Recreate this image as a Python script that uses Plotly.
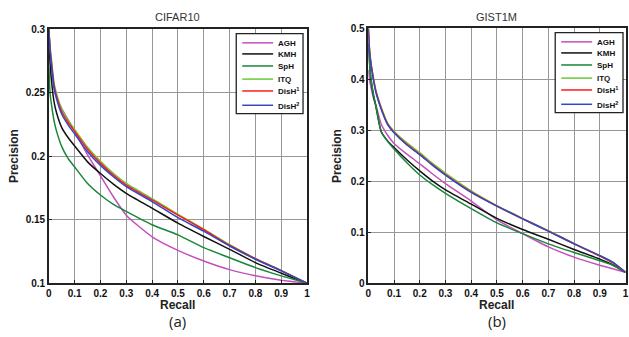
import plotly.graph_objects as go

W, H = 629, 337

methods = ["AGH", "KMH", "SpH", "ITQ", "DisH<sup>1</sup>", "DisH<sup>2</sup>"]
colors = ["#c54fbe", "#111111", "#17873a", "#6cc83a", "#ff1a1a", "#3347c4"]

# ---- CIFAR10 ----
recall_c = [0, 0.005, 0.01, 0.02, 0.03, 0.05, 0.075, 0.1, 0.15, 0.2, 0.25, 0.3, 0.4, 0.5, 0.6, 0.7, 0.8, 0.9, 1.0]
agh_c = [0.3, 0.283, 0.272, 0.254, 0.2465, 0.2375, 0.2285, 0.2195, 0.201, 0.1845, 0.168, 0.1535, 0.1365, 0.1258, 0.1174, 0.1106, 0.1058, 0.1023, 0.1]
kmh_c = [0.3, 0.272, 0.26, 0.243, 0.234, 0.2225, 0.2145, 0.208, 0.1955, 0.1863, 0.178, 0.1707, 0.159, 0.1472, 0.1367, 0.1266, 0.1161, 0.1078, 0.1]
sph_c = [0.27, 0.249, 0.241, 0.228, 0.2195, 0.2075, 0.198, 0.1915, 0.1785, 0.1694, 0.162, 0.1565, 0.146, 0.138, 0.1279, 0.12, 0.1122, 0.1057, 0.1]
itq_c = [0.3, 0.286, 0.276, 0.258, 0.249, 0.237, 0.2282, 0.221, 0.207, 0.196, 0.1865, 0.1785, 0.1665, 0.1542, 0.1425, 0.1302, 0.1194, 0.1099, 0.1]
dish1_c = [0.3, 0.284, 0.274, 0.256, 0.247, 0.235, 0.2265, 0.2195, 0.2055, 0.1945, 0.185, 0.1772, 0.1655, 0.1535, 0.142, 0.1298, 0.1192, 0.1098, 0.1]
dish2_c = [0.3, 0.282, 0.272, 0.254, 0.245, 0.233, 0.2245, 0.2175, 0.2035, 0.1927, 0.1838, 0.176, 0.1642, 0.1515, 0.1409, 0.1292, 0.1188, 0.1096, 0.1]

# ---- GIST1M ----
recall_g = [0, 0.005, 0.01, 0.02, 0.03, 0.05, 0.075, 0.1, 0.15, 0.2, 0.25, 0.3, 0.4, 0.5, 0.6, 0.7, 0.8, 0.9, 0.95, 1.0]
agh_g = [0.418, 0.398, 0.385, 0.363, 0.348, 0.312, 0.29, 0.274, 0.253, 0.234, 0.214, 0.195, 0.161, 0.124, 0.097, 0.071, 0.051, 0.035, 0.028, 0.021]
kmh_g = [0.47, 0.43, 0.4, 0.368, 0.345, 0.297, 0.279, 0.266, 0.242, 0.22, 0.2, 0.183, 0.155, 0.127, 0.105, 0.086, 0.066, 0.047, 0.036, 0.021]
sph_g = [0.47, 0.43, 0.402, 0.37, 0.346, 0.298, 0.278, 0.263, 0.236, 0.212, 0.193, 0.176, 0.146, 0.118, 0.097, 0.077, 0.06, 0.044, 0.035, 0.021]
itq_g = [0.5, 0.457, 0.434, 0.402, 0.377, 0.345, 0.314, 0.298, 0.275, 0.256, 0.235, 0.216, 0.181, 0.152, 0.127, 0.103, 0.078, 0.054, 0.041, 0.021]
dish1_g = [0.5, 0.455, 0.432, 0.4, 0.375, 0.343, 0.312, 0.296, 0.272, 0.253, 0.232, 0.213, 0.179, 0.151, 0.126, 0.102, 0.077, 0.053, 0.04, 0.021]
dish2_g = [0.5, 0.452, 0.43, 0.398, 0.373, 0.341, 0.311, 0.295, 0.271, 0.252, 0.231, 0.212, 0.178, 0.151, 0.126, 0.102, 0.077, 0.054, 0.041, 0.021]

x_ticks = [0, 0.1, 0.2, 0.3, 0.4, 0.5, 0.6, 0.7, 0.8, 0.9, 1]
x_ticktext = ["0", "0.1", "0.2", "0.3", "0.4", "0.5", "0.6", "0.7", "0.8", "0.9", "1"]
y_ticks_c = [0.1, 0.15, 0.2, 0.25, 0.3]
y_ticktext_c = ["0.1", "0.15", "0.2", "0.25", "0.3"]
y_ticks_g = [0, 0.1, 0.2, 0.3, 0.4, 0.5]
y_ticktext_g = ["0", "0.1", "0.2", "0.3", "0.4", "0.5"]

fig = go.Figure()

series_c = [agh_c, kmh_c, sph_c, itq_c, dish1_c, dish2_c]
series_g = [agh_g, kmh_g, sph_g, itq_g, dish1_g, dish2_g]

for name, col, ys in zip(methods, colors, series_c):
    fig.add_trace(go.Scatter(x=recall_c, y=ys, mode="lines", name=name, showlegend=False,
                             line=dict(color=col, width=1.5, shape="spline", smoothing=0.6),
                             xaxis="x", yaxis="y"))
for name, col, ys in zip(methods, colors, series_g):
    fig.add_trace(go.Scatter(x=recall_g, y=ys, mode="lines", name=name, showlegend=False,
                             line=dict(color=col, width=1.5, shape="spline", smoothing=0.6),
                             xaxis="x2", yaxis="y2"))

# pixel -> paper mapping (compensates the small inset observed in rendering)
OX, SX = 2.0, 625.0
OY, SY = 4.0, 329.0

def px_x(p):
    return (p - OX) / SX

def px_y(p):
    return 1 - (p - OY) / SY

tickfont = dict(family="Liberation Sans", size=10, color="#111", weight="bold")
axis_common = dict(showline=True, linecolor="#222", linewidth=1.5, mirror=True,
                   showgrid=True, gridcolor="#979797", gridwidth=1,
                   ticks="inside", ticklen=3, tickcolor="#222", tickfont=tickfont,
                   zeroline=False, tickmode="array")

fig.update_layout(
    width=W, height=H,
    margin=dict(l=0, r=0, t=0, b=0),
    paper_bgcolor="white", plot_bgcolor="white",
    showlegend=False,
    xaxis=dict(domain=[px_x(48), px_x(307)], range=[0, 1], tickvals=x_ticks, ticktext=x_ticktext,
               anchor="y", **axis_common),
    yaxis=dict(domain=[px_y(284.5), px_y(27.5)], range=[0.1, 0.3], tickvals=y_ticks_c, ticktext=y_ticktext_c,
               anchor="x", **axis_common),
    xaxis2=dict(domain=[px_x(368.5), px_x(626.5)], range=[0, 1], tickvals=x_ticks, ticktext=x_ticktext,
                anchor="y2", **axis_common),
    yaxis2=dict(domain=[px_y(284.5), px_y(26.5)], range=[0, 0.5], tickvals=y_ticks_g, ticktext=y_ticktext_g,
                anchor="x2", **axis_common),
)

# legends (box, line samples, labels) for each panel
legend_boxes = [(236, 32, 303, 113), (556, 31, 624, 112)]
legend_line_x = [(242, 273), (562, 593)]
legend_text_x = [276, 596]
legend_rows = [[41.3, 52.5, 64.7, 78, 90, 104.5], [40.3, 51.5, 63.7, 77, 89, 103.5]]
for (x0, y0, x1, y1), (lx0, lx1), tx, rows in zip(legend_boxes, legend_line_x, legend_text_x, legend_rows):
    fig.add_shape(type="rect", xref="paper", yref="paper",
                  x0=px_x(x0), x1=px_x(x1), y0=px_y(y1), y1=px_y(y0),
                  line=dict(color="#222", width=1.3), fillcolor="white", layer="above")
    for name, col, ry in zip(methods, colors, rows):
        fig.add_shape(type="line", xref="paper", yref="paper",
                      x0=px_x(lx0), x1=px_x(lx1), y0=px_y(ry), y1=px_y(ry),
                      line=dict(color=col, width=1.5), layer="above")
        fig.add_annotation(xref="paper", yref="paper", x=px_x(tx), y=px_y(ry + 0.5),
                           text=name, showarrow=False, xanchor="left", yanchor="middle",
                           font=dict(family="Liberation Sans", size=8, color="#111", weight="bold"))

annos = [
    dict(text="CIFAR10", x=px_x(177), y=px_y(15), font=dict(family="Liberation Sans", size=11, color="#333")),
    dict(text="GIST1M", x=px_x(497), y=px_y(15), font=dict(family="Liberation Sans", size=11, color="#333")),
    dict(text="Recall", x=px_x(177), y=px_y(307), font=dict(family="Liberation Sans", size=12, color="#222", weight="bold")),
    dict(text="Recall", x=px_x(497), y=px_y(307), font=dict(family="Liberation Sans", size=12, color="#222", weight="bold")),
    dict(text="Precision", x=px_x(13), y=px_y(156), textangle=-90, font=dict(family="Liberation Sans", size=12, color="#222", weight="bold")),
    dict(text="Precision", x=px_x(337), y=px_y(156), textangle=-90, font=dict(family="Liberation Sans", size=12, color="#222", weight="bold")),
    dict(text="(a)", x=px_x(177), y=px_y(323), font=dict(family="Open Sans", size=15, color="#222")),
    dict(text="(b)", x=px_x(498), y=px_y(323), font=dict(family="Open Sans", size=15, color="#222")),
]
for a in annos:
    fig.add_annotation(xref="paper", yref="paper", showarrow=False, xanchor="center", yanchor="middle", **a)

fig.write_html("out.html", config={"displayModeBar": False},
               post_script="document.body.style.margin='0';document.body.style.padding='0';")
